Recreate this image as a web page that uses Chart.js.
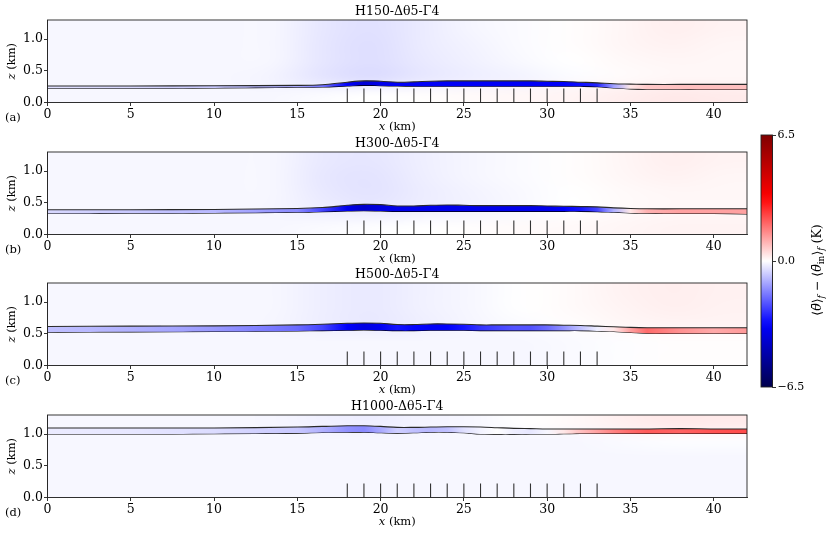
<!DOCTYPE html>
<html><head><meta charset="utf-8">
<script src="https://cdn.jsdelivr.net/npm/chart.js@4.4.0/dist/chart.umd.min.js"></script>
<style>
html,body{margin:0;padding:0;background:#fff;width:831px;height:535px;overflow:hidden;position:relative}
canvas{position:absolute;left:0}
</style></head><body>
<canvas id="c0" width="831" height="135" style="top:0px"></canvas>
<canvas id="c1" width="831" height="135" style="top:132px"></canvas>
<canvas id="c2" width="831" height="135" style="top:263px"></canvas>
<canvas id="c3" width="831" height="140" style="top:395px"></canvas>
<canvas id="cb" width="91" height="280" style="left:740px;top:120px"></canvas>
<script>
// ---------- data ----------
const titles = ['H150-Δθ5-Γ4', 'H300-Δθ5-Γ4', 'H500-Δθ5-Γ4', 'H1000-Δθ5-Γ4'];
const panelLabels = ['(a)', '(b)', '(c)', '(d)'];
const xTicks = [0, 5, 10, 15, 20, 25, 30, 35, 40];
const zTicks = [0.0, 0.5, 1.0];
const cbTicks = [-6.5, 0.0, 6.5];
const turbineX = [18,19,20,21,22,23,24,25,26,27,28,29,30,31,32,33];
const turbineTop = 0.22;

// x positions (km) where the layer boundaries / layer anomaly are read
const xLine = [0,5,10,15,16.5,18,19,20,21,22,23,24,25,26,27,28,29,30,31,32,33,34,35,36,38,40,42];

const upperA = [0.26,0.26,0.265,0.27,0.28,0.32,0.34,0.335,0.32,0.325,0.335,0.34,0.34,0.34,0.34,0.34,0.34,0.335,0.33,0.32,0.31,0.295,0.29,0.285,0.285,0.285,0.285];
const lowerA = [0.225,0.225,0.23,0.24,0.245,0.26,0.27,0.265,0.26,0.258,0.256,0.255,0.255,0.255,0.255,0.255,0.255,0.255,0.255,0.255,0.25,0.23,0.215,0.21,0.21,0.205,0.205];
const layerA = [-0.4,-0.5,-0.7,-1.1,-1.8,-3.3,-4,-3.6,-3.4,-3.4,-3.4,-3.4,-3.4,-3.4,-3.4,-3.4,-3.4,-3.4,-3.3,-3.1,-2.8,-1.2,0.3,0.7,0.8,0.8,0.8];

const upperB = [0.39,0.39,0.395,0.41,0.425,0.46,0.475,0.47,0.45,0.45,0.46,0.465,0.46,0.455,0.455,0.455,0.455,0.45,0.445,0.44,0.435,0.42,0.41,0.405,0.405,0.405,0.405];
const lowerB = [0.33,0.335,0.34,0.35,0.36,0.37,0.375,0.37,0.365,0.365,0.365,0.365,0.365,0.365,0.365,0.365,0.365,0.365,0.365,0.365,0.36,0.35,0.34,0.335,0.33,0.33,0.325];
const layerB = [-0.5,-0.7,-0.9,-1.5,-2.4,-3.6,-4.2,-3.8,-3.6,-3.6,-3.6,-3.6,-3.6,-3.6,-3.6,-3.6,-3.6,-3.6,-3.3,-3,-2.4,-1,0.3,1.0,1.2,1.2,1.2];

const upperC = [0.615,0.62,0.625,0.64,0.65,0.665,0.67,0.665,0.645,0.645,0.655,0.655,0.65,0.64,0.64,0.64,0.64,0.64,0.635,0.63,0.62,0.61,0.6,0.595,0.595,0.595,0.595];
const lowerC = [0.525,0.53,0.535,0.545,0.55,0.555,0.56,0.555,0.55,0.55,0.555,0.555,0.555,0.55,0.55,0.55,0.55,0.55,0.55,0.55,0.545,0.535,0.52,0.51,0.505,0.505,0.505];
const layerC = [-0.8,-1,-1.3,-1.9,-2.4,-3.3,-3.8,-3.5,-3,-3.2,-3.4,-3.3,-3,-2.6,-2.4,-2.2,-2.2,-1.9,-1.4,-0.8,-0.2,0.3,1.2,1.9,1.4,1.1,1.3];

const upperD = [1.095,1.095,1.095,1.11,1.12,1.13,1.13,1.12,1.105,1.105,1.11,1.115,1.115,1.11,1.1,1.09,1.085,1.08,1.08,1.08,1.08,1.08,1.08,1.08,1.085,1.08,1.08];
const lowerD = [1.0,1.0,1.005,1.015,1.025,1.03,1.03,1.02,1.015,1.02,1.03,1.03,1.02,1.0,0.995,0.995,1.0,1.0,1.005,1.01,1.01,1.01,1.01,1.01,1.01,1.01,1.01];
const layerD = [-0.25,-0.3,-0.45,-0.7,-1.0,-1.4,-1.5,-1.1,-0.6,-0.8,-0.9,-0.8,-0.4,-0.15,0,-0.2,-0.3,-0.1,0.3,0.8,1.2,1.6,1.9,2.1,2.0,2.2,2.3];

// background anomaly field: 14 columns (3 km cells over 0–42 km), 5 rows (0.26 km cells, top row first)
const fieldXRange = [0, 42];
const fieldZRange = [0, 1.3];
const fieldA = [
  [-0.1,-0.1,-0.1,-0.1,-0.1,-0.3,-0.4,-0.25,-0.12,-0.05,0.03,0.12,0.2,0.15],
  [-0.1,-0.1,-0.1,-0.1,-0.1,-0.32,-0.42,-0.25,-0.15,-0.05,0.03,0.12,0.16,0.12],
  [-0.1,-0.1,-0.1,-0.1,-0.1,-0.32,-0.42,-0.28,-0.18,-0.08,0.0,0.08,0.12,0.1],
  [-0.1,-0.1,-0.1,-0.1,-0.15,-0.35,-0.45,-0.3,-0.22,-0.15,-0.05,0.05,0.1,0.1],
  [-0.1,-0.1,-0.1,-0.1,-0.1,-0.05,0.0,0.03,0.06,0.1,0.14,0.22,0.28,0.25]
];
const fieldB = [
  [-0.1,-0.1,-0.1,-0.1,-0.1,-0.28,-0.32,-0.2,-0.12,-0.05,0.03,0.12,0.2,0.15],
  [-0.1,-0.1,-0.1,-0.1,-0.1,-0.3,-0.36,-0.22,-0.12,-0.05,0.03,0.1,0.16,0.12],
  [-0.1,-0.1,-0.1,-0.1,-0.1,-0.28,-0.36,-0.24,-0.15,-0.08,0.0,0.06,0.1,0.1],
  [-0.1,-0.1,-0.1,-0.1,-0.12,-0.22,-0.28,-0.2,-0.15,-0.08,0.0,0.06,0.1,0.1],
  [-0.1,-0.1,-0.1,-0.1,-0.1,-0.06,-0.03,0.0,0.03,0.06,0.08,0.12,0.15,0.15]
];
const fieldC = [
  [-0.1,-0.1,-0.1,-0.1,-0.1,-0.22,-0.28,-0.18,-0.1,0.0,0.06,0.16,0.22,0.18],
  [-0.1,-0.1,-0.1,-0.1,-0.1,-0.22,-0.28,-0.18,-0.1,0.0,0.06,0.14,0.2,0.16],
  [-0.1,-0.1,-0.1,-0.1,-0.12,-0.22,-0.28,-0.2,-0.12,-0.05,0.03,0.1,0.14,0.14],
  [-0.1,-0.1,-0.1,-0.1,-0.1,-0.1,-0.1,-0.1,-0.1,-0.1,-0.06,-0.02,0.02,0.02],
  [-0.1,-0.1,-0.1,-0.1,-0.1,-0.1,-0.1,-0.1,-0.1,-0.1,-0.06,-0.02,0.02,0.02]
];
const fieldD = [
  [-0.1,-0.1,-0.1,-0.1,-0.12,-0.18,-0.22,-0.14,-0.1,0.0,0.08,0.2,0.28,0.25],
  [-0.1,-0.1,-0.1,-0.1,-0.1,-0.1,-0.1,-0.1,-0.1,-0.1,-0.1,-0.06,-0.03,-0.03],
  [-0.1,-0.1,-0.1,-0.1,-0.1,-0.1,-0.1,-0.1,-0.1,-0.1,-0.1,-0.1,-0.1,-0.1],
  [-0.1,-0.1,-0.1,-0.1,-0.1,-0.1,-0.1,-0.1,-0.1,-0.1,-0.1,-0.1,-0.1,-0.1],
  [-0.1,-0.1,-0.1,-0.1,-0.1,-0.1,-0.1,-0.1,-0.1,-0.1,-0.1,-0.1,-0.1,-0.1]
];

const vMin = -6.5, vMax = 6.5;

// ---------- helpers ----------
const SERIF = '"DejaVu Serif", "Liberation Serif", serif';
function seismicRGB(v) {
  let t = (v - vMin) / (vMax - vMin);
  t = Math.max(0, Math.min(1, t));
  let r, g, b;
  if (t < 0.25) { r = 0; g = 0; b = 0.3 + 0.7 * t / 0.25; }
  else if (t < 0.5) { const s = (t - 0.25) / 0.25; r = s; g = s; b = 1; }
  else if (t < 0.75) { const s = (t - 0.5) / 0.25; r = 1; g = 1 - s; b = 1 - s; }
  else { const s = (t - 0.75) / 0.25; r = 1 - 0.5 * s; g = 0; b = 0; }
  return [Math.round(r * 255), Math.round(g * 255), Math.round(b * 255)];
}
function seismic(v) { const c = seismicRGB(v); return `rgb(${c[0]},${c[1]},${c[2]})`; }

function drawParts(ctx, parts, x, y, align) {
  let total = 0;
  parts.forEach(p => { ctx.font = p.font; total += ctx.measureText(p.t).width; });
  let cx = align === 'center' ? x - total / 2 : x;
  ctx.textAlign = 'left';
  parts.forEach(p => {
    ctx.font = p.font;
    ctx.fillText(p.t, cx, y + (p.dy || 0));
    cx += ctx.measureText(p.t).width;
  });
}

function layerGradient(layer) {
  return (c) => {
    const ch = c.chart;
    if (!ch.chartArea || !ch.scales.x) return 'rgba(0,0,0,0)';
    const xs = ch.scales.x;
    const x0 = xs.getPixelForValue(xLine[0]), x1 = xs.getPixelForValue(xLine[xLine.length - 1]);
    const g = ch.ctx.createLinearGradient(x0, 0, x1, 0);
    xLine.forEach((x, i) => g.addColorStop((xs.getPixelForValue(x) - x0) / (x1 - x0), seismic(layer[i])));
    return g;
  };
}

const panels = [
  {title: titles[0], label: panelLabels[0], upper: upperA, lower: lowerA, layer: layerA, field: fieldA},
  {title: titles[1], label: panelLabels[1], upper: upperB, lower: lowerB, layer: layerB, field: fieldB},
  {title: titles[2], label: panelLabels[2], upper: upperC, lower: lowerC, layer: layerC, field: fieldC},
  {title: titles[3], label: panelLabels[3], upper: upperD, lower: lowerD, layer: layerD, field: fieldD}
];

const decoPlugin = {
  id: 'deco',
  beforeDatasetsDraw(chart) {
    const p = chart.options.plugins.deco.panel;
    const {ctx, chartArea: ca, scales: {x, y}} = chart;
    const grid = p.field, rows = grid.length, cols = grid[0].length;
    const off = document.createElement('canvas'); off.width = cols; off.height = rows;
    const octx = off.getContext('2d'); const img = octx.createImageData(cols, rows);
    for (let r = 0; r < rows; r++) for (let c = 0; c < cols; c++) {
      const col = seismicRGB(grid[r][c]); const k = (r * cols + c) * 4;
      img.data[k] = col[0]; img.data[k+1] = col[1]; img.data[k+2] = col[2]; img.data[k+3] = 255;
    }
    octx.putImageData(img, 0, 0);
    ctx.save();
    ctx.beginPath(); ctx.rect(ca.left, ca.top, ca.right - ca.left, ca.bottom - ca.top); ctx.clip();
    ctx.fillStyle = seismic(-0.1);
    ctx.fillRect(ca.left, ca.top, ca.right - ca.left, ca.bottom - ca.top);
    ctx.imageSmoothingEnabled = true; ctx.imageSmoothingQuality = 'high';
    const l = x.getPixelForValue(fieldXRange[0]), r = x.getPixelForValue(fieldXRange[1]);
    const t = y.getPixelForValue(fieldZRange[1]), b = y.getPixelForValue(fieldZRange[0]);
    ctx.drawImage(off, l, t, r - l, b - t);
    ctx.restore();
  },
  afterDraw(chart) {
    const p = chart.options.plugins.deco.panel;
    const {ctx, chartArea: ca} = chart;
    ctx.save();
    ctx.strokeStyle = '#222'; ctx.lineWidth = 0.9;
    ctx.strokeRect(ca.left, ca.top, ca.right - ca.left, ca.bottom - ca.top);
    ctx.fillStyle = '#000';
    ctx.textBaseline = 'alphabetic';
    const cx = (ca.left + ca.right) / 2;
    drawParts(ctx, [{t: p.title, font: `12.5px ${SERIF}`}], cx, ca.top - 5, 'center');
    ctx.textBaseline = 'middle';
    drawParts(ctx, [{t: 'x', font: `italic 11.5px ${SERIF}`}, {t: ' (km)', font: `11.5px ${SERIF}`}], cx, ca.bottom + 24.5, 'center');
    drawParts(ctx, [{t: p.label, font: `11.5px ${SERIF}`}], 5, ca.bottom + 15.5, 'left');
    ctx.translate(12, (ca.top + ca.bottom) / 2);
    ctx.rotate(-Math.PI / 2);
    drawParts(ctx, [{t: 'z', font: `italic 11.5px ${SERIF}`}, {t: ' (km)', font: `11.5px ${SERIF}`}], 0, 0, 'center');
    ctx.restore();
  }
};

function tickFont() { return {family: SERIF, size: 12.5}; }

panels.forEach((p, i) => {
  const turbines = [];
  turbineX.forEach(tx => { turbines.push({x: tx, y: 0}, {x: tx, y: turbineTop}, {x: tx, y: null}); });
  const H = document.getElementById('c' + i).height;
  new Chart(document.getElementById('c' + i), {
    type: 'line',
    data: {
      datasets: [
        {data: xLine.map((x, k) => ({x, y: p.upper[k]})), borderColor: '#2a2a2a', borderWidth: 1.1,
         pointRadius: 0, tension: 0.35, fill: '+1', backgroundColor: layerGradient(p.layer)},
        {data: xLine.map((x, k) => ({x, y: p.lower[k]})), borderColor: '#000', borderWidth: 1.1,
         pointRadius: 0, tension: 0.35, fill: false},
        {data: turbines, borderColor: '#333', borderWidth: 1.1, pointRadius: 0, tension: 0, fill: false, spanGaps: false}
      ]
    },
    options: {
      responsive: false, animation: false, devicePixelRatio: 1,
      layout: {padding: {top: 20, left: 0, right: 84, bottom: 0}},
      plugins: {legend: {display: false}, tooltip: {enabled: false}, deco: {panel: p}},
      scales: {
        x: {type: 'linear', min: 0, max: 42,
            afterBuildTicks: s => { s.ticks = xTicks.map(v => ({value: v})); },
            afterFit: s => { s.height = H - 102.5; },
            ticks: {font: tickFont(), color: '#000', padding: 1, maxRotation: 0, autoSkip: false,
                    callback: v => String(v)},
            grid: {display: true, drawOnChartArea: false, drawTicks: true, tickLength: 3.5, color: '#000', lineWidth: 0.8},
            border: {display: true, color: '#222', width: 0.9}},
        y: {type: 'linear', min: 0, max: 1.3,
            afterBuildTicks: s => { s.ticks = zTicks.map(v => ({value: v})); },
            afterFit: s => { s.width = 47.5; },
            ticks: {font: tickFont(), color: '#000', padding: 1, autoSkip: false,
                    callback: v => Number(v).toFixed(1)},
            grid: {display: true, drawOnChartArea: false, drawTicks: true, tickLength: 3.5, color: '#000', lineWidth: 0.8},
            border: {display: true, color: '#222', width: 0.9}}
      }
    },
    plugins: [decoPlugin]
  });
});

// ---------- colorbar ----------
const cbPlugin = {
  id: 'cbdeco',
  beforeDatasetsDraw(chart) {
    const {ctx, chartArea: ca, scales: {y}} = chart;
    const yTop = y.getPixelForValue(vMax), yBot = y.getPixelForValue(vMin);
    const g = ctx.createLinearGradient(0, yBot, 0, yTop);
    for (let k = 0; k <= 26; k++) {
      const v = vMin + (vMax - vMin) * k / 26;
      g.addColorStop(k / 26, seismic(v));
    }
    ctx.save();
    ctx.fillStyle = g;
    ctx.fillRect(ca.left, yTop, ca.right - ca.left, yBot - yTop);
    ctx.restore();
  },
  afterDraw(chart) {
    const {ctx, chartArea: ca} = chart;
    ctx.save();
    ctx.strokeStyle = '#222'; ctx.lineWidth = 0.9;
    ctx.strokeRect(ca.left, ca.top, ca.right - ca.left, ca.bottom - ca.top);
    ctx.fillStyle = '#000';
    ctx.translate(78, 150);
    ctx.rotate(-Math.PI / 2);
    ctx.textBaseline = 'middle';
    const n = `12.5px ${SERIF}`, it = `italic 12.5px ${SERIF}`, sub = `9px ${SERIF}`, subi = `italic 9px ${SERIF}`;
    drawParts(ctx, [
      {t: '⟨', font: n}, {t: 'θ\u0304', font: it}, {t: '⟩', font: n}, {t: 'f', font: subi, dy: 3.5},
      {t: ' − ⟨', font: n}, {t: 'θ\u0304', font: it}, {t: 'in', font: sub, dy: 3.5}, {t: '⟩', font: n},
      {t: 'f', font: subi, dy: 3.5}, {t: ' (K)', font: n}
    ], 0, 0, 'center');
    ctx.restore();
  }
};

new Chart(document.getElementById('cb'), {
  type: 'line',
  data: {datasets: [{data: [], pointRadius: 0}]},
  options: {
    responsive: false, animation: false, devicePixelRatio: 1,
    layout: {padding: {top: 15, left: 21, right: 0, bottom: 13}},
    plugins: {legend: {display: false}, tooltip: {enabled: false}},
    scales: {
      x: {type: 'linear', display: false, min: 0, max: 1},
      y: {type: 'linear', position: 'right', min: vMin, max: vMax,
          afterBuildTicks: s => { s.ticks = cbTicks.map(v => ({value: v})); },
          afterFit: s => { s.width = 91 - 21 - 11.5; },
          ticks: {font: {family: SERIF, size: 11}, color: '#000', padding: 1.5, autoSkip: false,
                  callback: v => (v < 0 ? '\u2212' + Math.abs(v).toFixed(1) : Number(v).toFixed(1))},
          grid: {display: true, drawOnChartArea: false, drawTicks: true, tickLength: 3.5, color: '#000', lineWidth: 0.8},
          border: {display: true, color: '#222', width: 0.9}}
    }
  },
  plugins: [cbPlugin]
});
</script>
</body></html>
